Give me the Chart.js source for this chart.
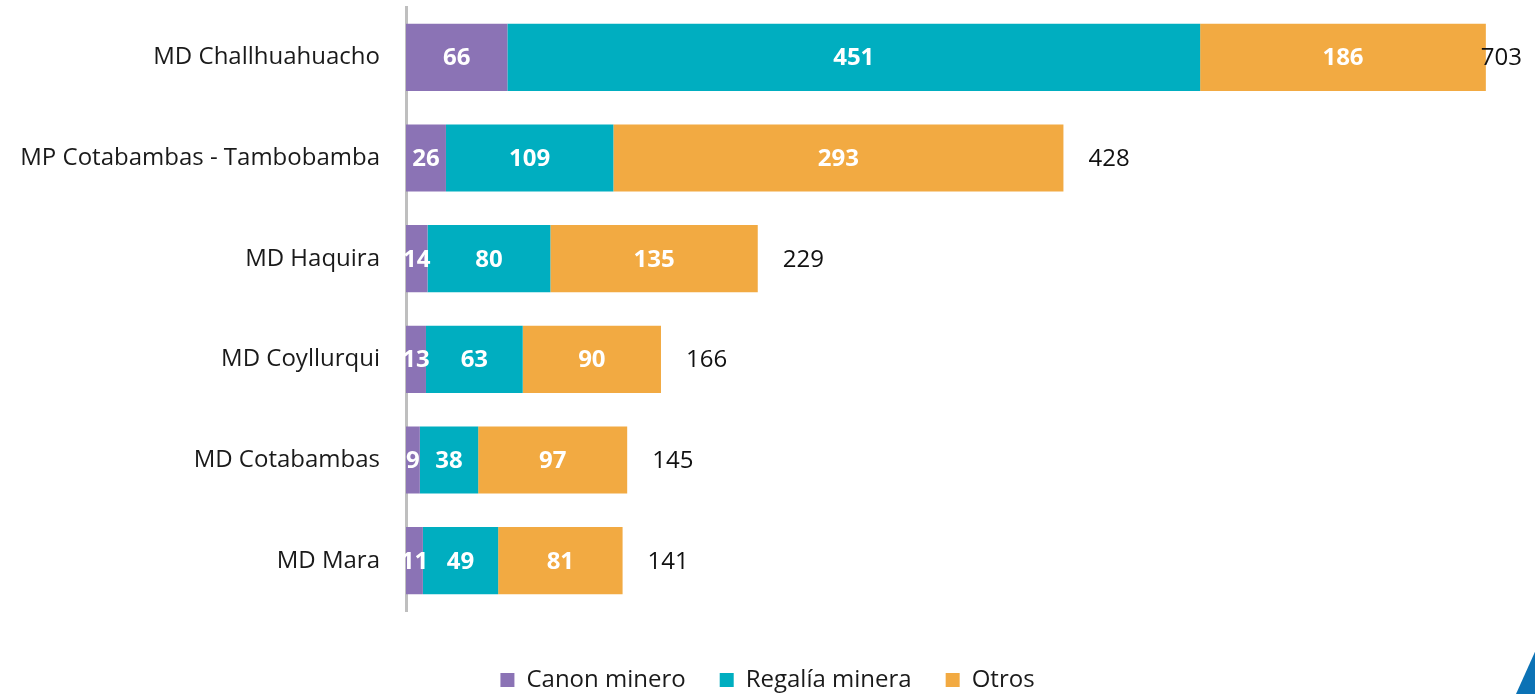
<!DOCTYPE html>
<html>
<head>
<meta charset="utf-8">
<script src="https://cdn.jsdelivr.net/npm/chart.js@4/dist/chart.umd.min.js"></script>
<style>
    html, body { margin: 0; padding: 0; background: #fff; overflow: hidden; }
    #wrap { position: relative; width: 1535px; height: 702px; }
    #corner {
        position: absolute; left: 1510px; top: 650px; width: 25px; height: 44px;
        background: #0b72b5;
        clip-path: polygon(100% 4%, 100% 100%, 24% 100%);
    }
</style>
</head>
<body>
<div id="wrap">
    <canvas id="chart"></canvas>
    <div id="corner"></div>
</div>
<script>
const categories = [
    'MD Challhuahuacho',
    'MP Cotabambas - Tambobamba',
    'MD Haquira',
    'MD Coyllurqui',
    'MD Cotabambas',
    'MD Mara'
];
const canonMinero = [66, 26, 14, 13, 9, 11];
const regaliaMinera = [451, 109, 80, 63, 38, 49];
const otros = [186, 293, 135, 90, 97, 81];
const totals = [703, 428, 229, 166, 145, 141];

const FONT = '"Open Sans", "Noto Sans", sans-serif';

// white numbers inside each segment + totals after the bar
const labelsPlugin = {
    id: 'barLabels',
    afterDatasetsDraw(chart) {
        const ctx = chart.ctx;
        ctx.save();
        ctx.textBaseline = 'middle';
        ctx.textAlign = 'center';
        ctx.fillStyle = '#ffffff';
        ctx.font = 'bold 24px ' + FONT;
        chart.data.datasets.forEach((ds, di) => {
            const meta = chart.getDatasetMeta(di);
            meta.data.forEach((bar, i) => {
                const cx = (bar.x + bar.base) / 2;
                ctx.fillText(String(ds.data[i]), cx, bar.y + 1);
            });
        });

        const last = chart.getDatasetMeta(chart.data.datasets.length - 1);
        ctx.font = '24px ' + FONT;
        ctx.fillStyle = '#111111';
        ctx.textAlign = 'left';
        last.data.forEach((bar, i) => {
            const txt = String(totals[i]);
            const w = ctx.measureText(txt).width;
            const x = Math.min(bar.x + 25, chart.chartArea.right - 13 - w);
            ctx.fillText(txt, x, bar.y + 1);
        });
        ctx.restore();
    }
};

const ctx = document.getElementById('chart').getContext('2d');

const chart = new Chart(ctx, {
    type: 'bar',
    data: {
        labels: categories,
        datasets: [
            { label: 'Canon minero', data: canonMinero, backgroundColor: '#8b73b5' },
            { label: 'Regalía minera', data: regaliaMinera, backgroundColor: '#00aec0' },
            { label: 'Otros', data: otros, backgroundColor: '#f2aa42' }
        ]
    },
    options: {
        indexAxis: 'y',
        responsive: true,
        maintainAspectRatio: false,
        animation: false,
        categoryPercentage: 1,
        barPercentage: 0.667,
        layout: { padding: { top: 7, right: 0, bottom: 0, left: 0 } },
        scales: {
            x: {
                stacked: true,
                min: 0,
                max: 735,
                grid: { display: false },
                border: { display: false },
                ticks: { display: false },
                afterFit(scale) { scale.height = 23; }
            },
            y: {
                stacked: true,
                grid: { display: false, drawTicks: false },
                border: { display: true, color: '#bfbfbf', width: 3 },
                ticks: {
                    padding: 26,
                    color: '#1a1a1a',
                    font: { family: FONT, size: 24 }
                },
                afterFit(scale) {
                    scale.width = 406;
                    scale.paddingTop = 0;
                    scale.paddingBottom = 0;
                }
            }
        },
        plugins: {
            legend: {
                position: 'bottom',
                labels: {
                    boxWidth: 14,
                    boxHeight: 14,
                    padding: 34,
                    color: '#1a1a1a',
                    font: { family: FONT, size: 24 }
                }
            },
            tooltip: { enabled: false }
        }
    },
    plugins: [labelsPlugin]
});
</script>
</body>
</html>
